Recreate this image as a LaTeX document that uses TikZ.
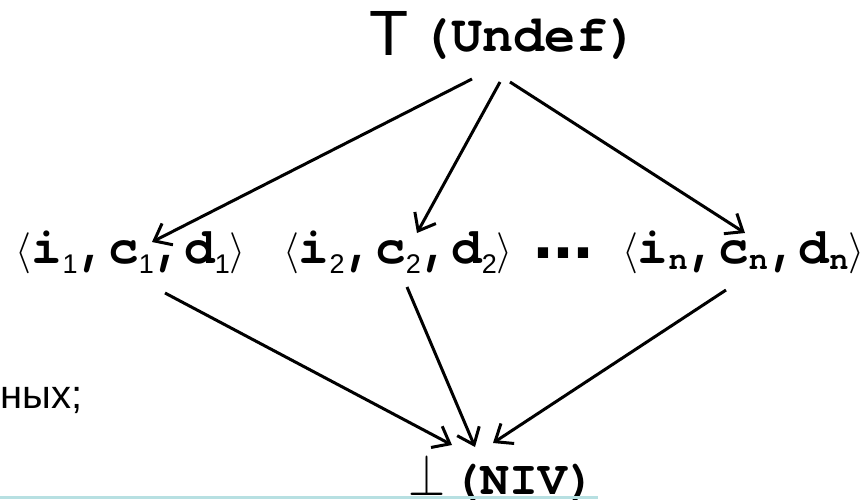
\documentclass[tikz,border=0pt]{standalone}
\usepackage{fontspec}
\setmainfont{Liberation Sans}
\newfontfamily\cour{TeX Gyre Cursor}
\usetikzlibrary{arrows.meta}
\definecolor{cyanline}{RGB}{183,224,226}
\newcommand\mylang{\scalebox{4.1}{$\langle$}}
\newcommand\myrang{\scalebox{4.1}{$\rangle$}}
\newcommand\cbf[1]{{\cour\bfseries\fontsize{51}{51}\selectfont #1}}
\newcommand\subsf[1]{\raisebox{-10pt}{\fontsize{27}{27}\selectfont #1}}
\newcommand\subtt[1]{\raisebox{-6pt}{\cour\bfseries\fontsize{32}{32}\selectfont #1}}
\tikzset{
  lbl/.style={inner sep=0pt, outer sep=0pt, anchor=base west},
  arr/.style={line width=3pt, -{Straight Barb[length=15pt,width=24pt]}}
}
\begin{document}
\begin{tikzpicture}[x=1pt,y=-1pt]
\useasboundingbox (0,0) rectangle (863,499);
\clip (0,0) rectangle (863,499);
% top
\node[lbl] (top) at (369,55) {\fontsize{64}{64}\selectfont T};
\node[lbl] (undef) at (420,51) {\cour\bfseries\fontsize{52}{52}\selectfont (Undef)};
% tuples
\node[lbl] (t1) at (16,263) {\mylang\cbf{i}\subsf{1}\cbf{,}\cbf{c}\subsf{1}\cbf{,}\cbf{d}\subsf{1}\myrang};
\node[lbl] (t2) at (283,263) {\mylang\cbf{i}\subsf{2}\cbf{,}\cbf{c}\subsf{2}\cbf{,}\cbf{d}\subsf{2}\myrang};
\node[lbl] (dots) at (533,258) {\bfseries\fontsize{72}{72}\selectfont ...};
\node[lbl] (tn) at (622,263) {\mylang\cbf{i}\subtt{n}\cbf{,}\cbf{c}\subtt{n}\cbf{,}\cbf{d}\subtt{n}\myrang};
% bottom
\node[lbl] (bot) at (408,495) {\resizebox{37pt}{41pt}{$\bot$}};
\node[lbl] (niv) at (452,494) {\cour\bfseries\fontsize{48}{48}\selectfont (NIV)};
% left text
\node[inner sep=0pt, anchor=base east] (left) at (83,408) {\fontsize{40}{40}\selectfont ных;};
% connector end points
\coordinate (a1) at (472,79);  \coordinate (b1) at (152,242);
\coordinate (a2) at (500,82);  \coordinate (b2) at (417,233);
\coordinate (a3) at (510,82);  \coordinate (b3) at (745,233);
\coordinate (c1) at (165,293); \coordinate (d1) at (452,445);
\coordinate (c2) at (407,287); \coordinate (d2) at (475,447);
\coordinate (c3) at (726,290); \coordinate (d3) at (493,443);
\draw[arr] (a1) -- (b1);
\draw[arr] (a2) -- (b2);
\draw[arr] (a3) -- (b3);
\draw[arr] (c1) -- (d1);
\draw[arr] (c2) -- (d2);
\draw[arr] (c3) -- (d3);
% cyan rule
\fill[cyanline] (0,496) rectangle (598,499);
\end{tikzpicture}
\end{document}
